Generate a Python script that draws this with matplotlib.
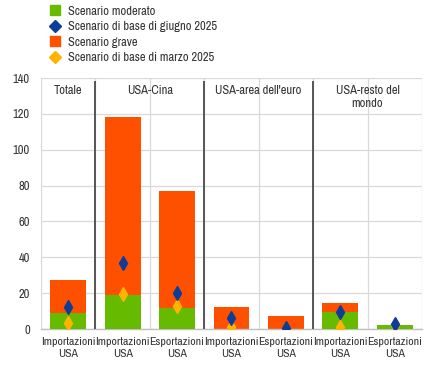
import matplotlib
matplotlib.use("Agg")
import matplotlib.pyplot as plt
from matplotlib.lines import Line2D
from matplotlib import font_manager

fams = sorted({f.name for f in font_manager.fontManager.ttflist})
narrow = [f for f in fams if ("Narrow" in f or "Condensed" in f)]
if narrow:
    FONT = [narrow[0], "DejaVu Sans"]
    FS = 8.5
else:
    FONT = ["Liberation Sans", "DejaVu Sans"]
    FS = 7.2
plt.rcParams["font.family"] = FONT

# Data
categories = ["Importazioni\nUSA", "Importazioni\nUSA", "Esportazioni\nUSA",
              "Importazioni\nUSA", "Esportazioni\nUSA", "Importazioni\nUSA", "Esportazioni\nUSA"]
groups = ["Totale", "USA-Cina", "USA-area dell'euro", "USA-resto del\nmondo"]
group_spans = [(0, 0), (1, 2), (3, 4), (5, 6)]
grave = [27.3, 118.3, 77.1, 12.3, 7.3, 14.5, 2.0]
moderato = [8.8, 19.0, 11.7, 0.0, 0.0, 9.7, 2.2]
giugno = [12.3, 36.7, 20.3, 6.1, 0.5, 9.7, 2.6]
marzo = [3.5, 19.5, 12.8, 1.0, 0.0, 1.1, 2.0]

C_GREEN = "#66BB00"
C_RED = "#FF5000"
C_NAVY = "#0B3D99"
C_GOLD = "#FFB400"
TXT = "#333333"

fig = plt.figure(figsize=(4.28, 3.69), dpi=100)
ax = fig.add_axes([0.0958, 0.1084, 0.890, 0.680])

x = list(range(len(categories)))
ax.bar(x, grave, width=0.66, color=C_RED, zorder=2)
ax.bar(x, moderato, width=0.66, color=C_GREEN, zorder=3)
ax.plot(x, marzo, linestyle="none", marker="d", markersize=7.5, color=C_GOLD, zorder=4)
ax.plot(x, giugno, linestyle="none", marker="d", markersize=7.5, color=C_NAVY, zorder=5)

ax.set_xlim(-0.5, len(categories) - 0.5)
ax.set_ylim(0, 140)
ax.set_yticks(range(0, 141, 20))
ax.set_xticks(x)
ax.set_xticklabels(categories, fontsize=FS, linespacing=1.15, color=TXT)
ax.tick_params(axis="y", labelsize=FS + 0.5, length=0, pad=8, labelcolor=TXT)
ax.tick_params(axis="x", length=0, pad=6)

ax.yaxis.grid(True, color="#D9D9D9", linewidth=0.9, zorder=0)
for b in [i - 0.5 for i in range(len(categories) + 1)]:
    ax.axvline(b, color="#D9D9D9", linewidth=0.9, zorder=0)
for s in ["top", "right", "left"]:
    ax.spines[s].set_visible(False)
ax.spines["bottom"].set_color("#BFBFBF")
ax.spines["bottom"].set_linewidth(1.0)

# group separators
for (a, b) in group_spans[:-1]:
    ax.plot([b + 0.5, b + 0.5], [0, 138.5], color="#555555", linewidth=1.4, zorder=6, solid_capstyle="butt")

for g, (a, b) in zip(groups, group_spans):
    ax.text((a + b) / 2, 136, g, ha="center", va="top", fontsize=FS + 0.5, color=TXT, linespacing=1.2)

handles = [
    Line2D([], [], linestyle="none", marker="s", markersize=6.5, color=C_GREEN),
    Line2D([], [], linestyle="none", marker="D", markersize=6, color=C_NAVY),
    Line2D([], [], linestyle="none", marker="s", markersize=6.5, color=C_RED),
    Line2D([], [], linestyle="none", marker="D", markersize=6, color=C_GOLD),
]
labels = ["Scenario moderato", "Scenario di base di giugno 2025",
          "Scenario grave", "Scenario di base di marzo 2025"]
leg = fig.legend(handles, labels, loc="upper left", bbox_to_anchor=(0.10, 0.998), frameon=False,
                 fontsize=FS + 0.5, handletextpad=0.4, labelspacing=0.36, handlelength=1.2, borderaxespad=0)
for t in leg.get_texts():
    t.set_color(TXT)

fig.savefig("out.png", dpi=100)
